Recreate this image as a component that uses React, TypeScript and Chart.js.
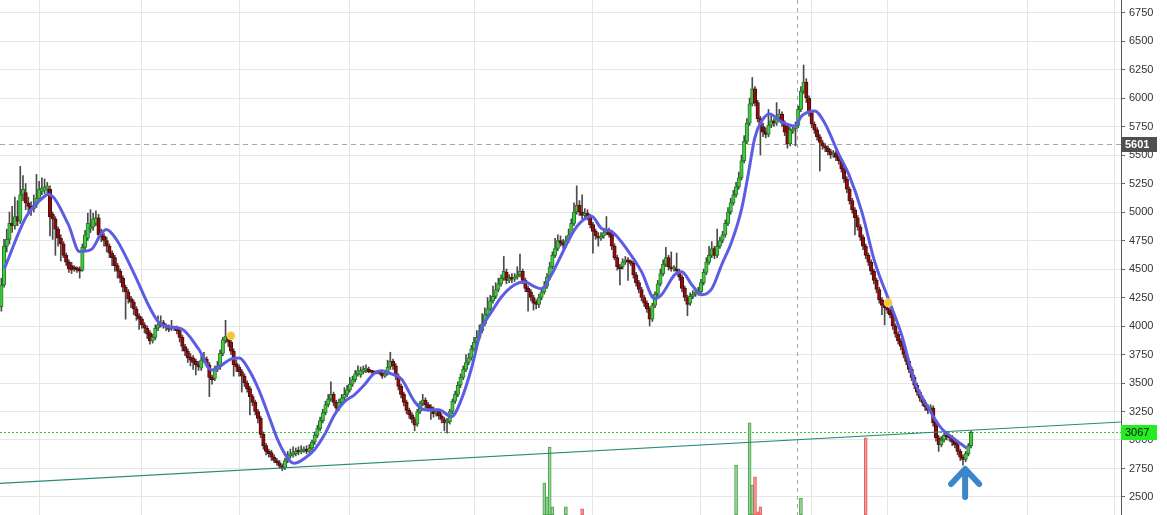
import React, { useEffect, useRef } from "react";
import { Chart, registerables } from "chart.js";

Chart.register(...registerables);

// ---- candle data (one candle per trading day) ----
const opens = [
  4170,4360,4700,4760,4900,4880,4960,4920,5150,5170,
  5080,5050,5030,5060,5120,5180,5190,5200,5200,4980,
  4940,4850,4770,4720,4620,4560,4530,4510,4510,4500,
  4490,4690,4770,4850,4870,4900,4950,4820,4790,4750,
  4700,4640,4600,4530,4480,4420,4340,4300,4240,4210,
  4150,4090,4060,4010,3980,3940,3870,3900,3980,4010,
  4030,4000,3990,3975,3990,3985,3960,3900,3820,3780,
  3730,3720,3690,3660,3630,3700,3710,3660,3550,3540,
  3620,3640,3760,3870,3900,3860,3780,3670,3640,3600,
  3560,3500,3450,3380,3330,3250,3190,3050,2950,2900,
  2890,2850,2820,2800,2770,2760,2820,2860,2870,2880,
  2900,2895,2905,2915,2900,2930,2980,3040,3100,3170,
  3240,3310,3360,3400,3330,3280,3330,3370,3400,3440,
  3490,3530,3580,3570,3600,3610,3620,3600,3595,3590,
  3590,3585,3560,3580,3640,3690,3650,3560,3470,3400,
  3330,3260,3220,3180,3140,3250,3320,3350,3310,3290,
  3270,3230,3250,3210,3180,3150,3160,3250,3340,3400,
  3480,3550,3620,3680,3720,3800,3860,3900,3960,4020,
  4100,4150,4220,4260,4320,4370,4420,4470,4400,4420,
  4410,4430,4450,4480,4400,4330,4300,4250,4200,4190,
  4250,4300,4350,4430,4520,4620,4680,4750,4730,4710,
  4750,4800,4900,5000,5060,5000,4970,4990,4960,4890,
  4830,4790,4770,4790,4820,4840,4820,4700,4600,4520,
  4520,4560,4580,4560,4550,4450,4380,4320,4250,4200,
  4150,4060,4180,4280,4370,4460,4540,4600,4520,4500,
  4500,4480,4430,4330,4250,4200,4260,4280,4290,4300,
  4380,4470,4560,4620,4680,4620,4700,4750,4800,4900,
  5000,5080,5150,5220,5300,5450,5620,5780,5950,6080,
  5960,5820,5750,5700,5680,5760,5800,5780,5830,5860,
  5780,5750,5600,5710,5730,5760,5900,6060,6140,6000,
  5870,5770,5720,5660,5610,5580,5560,5530,5500,5520,
  5480,5450,5380,5290,5200,5100,5020,4950,4870,4780,
  4700,4620,4560,4480,4400,4320,4230,4180,4160,4140,
  4100,4000,3930,3870,3820,3750,3690,3620,3550,3480,
  3420,3370,3330,3290,3270,3280,3150,3020,2960,3000,
  3040,3030,3020,2980,2960,2900,2850,2830,2880,2950,
];
const highs = [
  4420,4760,4850,5000,5050,5130,5100,5400,5320,5250,
  5130,5090,5150,5330,5270,5300,5290,5260,5230,5000,
  4960,4870,4800,4740,4640,4580,4560,4530,4520,4520,
  4720,4840,4990,5020,4990,5010,4980,4850,4810,4780,
  4720,4660,4620,4550,4500,4440,4360,4320,4260,4230,
  4170,4110,4080,4030,4000,3960,3930,4010,4090,4090,
  4050,4020,4010,4050,4000,4000,3980,3920,3840,3800,
  3760,3740,3710,3690,3740,3770,3730,3680,3570,3650,
  3690,3790,3900,4050,3930,3880,3800,3700,3660,3620,
  3580,3520,3470,3400,3350,3270,3210,3070,2970,2920,
  2910,2870,2840,2820,2790,2840,2900,2920,2940,2930,
  2940,2950,2940,2950,2960,3000,3070,3130,3200,3270,
  3340,3400,3510,3420,3350,3360,3400,3460,3480,3550,
  3560,3610,3650,3640,3650,3660,3640,3610,3605,3600,
  3600,3600,3600,3700,3770,3710,3670,3580,3490,3420,
  3350,3280,3240,3200,3270,3340,3400,3370,3330,3310,
  3290,3270,3270,3230,3200,3190,3270,3360,3430,3510,
  3580,3650,3750,3760,3830,3900,3960,4010,4110,4160,
  4250,4270,4350,4380,4420,4450,4610,4500,4450,4460,
  4460,4520,4630,4500,4420,4350,4320,4270,4230,4280,
  4330,4390,4460,4560,4650,4770,4800,4790,4760,4790,
  4850,4940,5080,5230,5100,5150,5030,5020,4980,4910,
  4850,4820,4820,4850,4960,4860,4840,4720,4620,4540,
  4590,4610,4600,4580,4570,4470,4400,4340,4270,4220,
  4170,4200,4300,4400,4500,4580,4690,4620,4650,4530,
  4640,4500,4450,4350,4270,4290,4310,4320,4340,4410,
  4500,4600,4700,4740,4700,4850,4780,4830,4930,5040,
  5120,5190,5260,5350,5500,5670,5820,6000,6180,6100,
  5980,5840,5780,5740,5900,5840,5820,5960,5900,5880,
  5800,5770,5740,5760,5790,5930,6100,6290,6170,6020,
  5890,5790,5740,5680,5630,5600,5580,5550,5540,5540,
  5500,5470,5400,5310,5220,5120,5040,4970,4890,4800,
  4720,4640,4580,4500,4420,4340,4250,4200,4180,4160,
  4120,4020,3950,3890,3840,3770,3710,3640,3570,3500,
  3440,3390,3350,3310,3310,3300,3170,3040,3030,3060,
  3060,3050,3040,3000,2980,2920,2870,2900,2970,3080,
];
const lows = [
  4130,4340,4650,4720,4820,4850,4880,4900,5100,5020,
  4990,4970,5000,5040,5090,5150,5160,5170,4790,4760,
  4620,4700,4570,4600,4530,4470,4460,4480,4470,4420,
  4480,4670,4750,4820,4840,4880,4770,4740,4700,4650,
  4600,4530,4480,4420,4380,4300,4060,4200,4160,4100,
  4050,3970,3980,3940,3890,3840,3850,3880,3960,3990,
  3980,3960,3950,3960,3960,3930,3860,3780,3740,3680,
  3650,3620,3570,3610,3610,3680,3640,3380,3490,3520,
  3600,3620,3740,3850,3820,3750,3560,3600,3560,3420,
  3470,3420,3220,3300,3220,3150,3020,2920,2870,2850,
  2820,2800,2780,2750,2730,2740,2800,2840,2850,2860,
  2870,2880,2890,2880,2890,2910,2960,3020,3080,3150,
  3220,3290,3340,3300,3230,3260,3310,3350,3380,3420,
  3470,3510,3560,3550,3580,3590,3590,3585,3580,3580,
  3575,3540,3550,3570,3620,3620,3530,3440,3370,3300,
  3230,3190,3150,3080,3120,3230,3300,3280,3250,3180,
  3200,3210,3180,3150,3080,3060,3140,3230,3320,3380,
  3460,3530,3600,3660,3700,3780,3840,3880,3940,4000,
  4080,4130,4200,4240,4300,4350,4400,4370,4380,4380,
  4390,4410,4430,4370,4300,4130,4220,4140,4150,4160,
  4230,4280,4330,4410,4500,4600,4660,4700,4680,4690,
  4730,4780,4880,4980,4970,4940,4950,4930,4860,4640,
  4760,4700,4750,4770,4800,4780,4670,4580,4490,4360,
  4500,4540,4400,4530,4420,4350,4290,4220,4170,4120,
  4000,4040,4160,4260,4350,4440,4520,4490,4480,4480,
  4460,4400,4300,4220,4090,4180,4240,4260,4270,4280,
  4360,4450,4540,4600,4590,4600,4680,4730,4780,4880,
  4980,5060,5130,5200,5280,5430,5600,5760,5930,5930,
  5790,5500,5660,5650,5660,5740,5750,5760,5810,5750,
  5670,5560,5580,5690,5580,5740,5880,6040,5960,5840,
  5740,5690,5630,5360,5550,5530,5500,5470,5480,5450,
  5420,5350,5260,5170,5070,4990,4800,4840,4750,4670,
  4590,4530,4450,4370,4290,4200,4100,4010,4110,4070,
  3970,3900,3840,3790,3720,3660,3590,3520,3450,3390,
  3340,3300,3260,3230,3250,3120,2990,2900,2940,2980,
  3000,2990,2950,2930,2870,2820,2780,2810,2860,2930,
];
const closes = [
  4360,4700,4760,4900,4880,4960,4920,5150,5200,5080,
  5050,5030,5060,5120,5200,5210,5220,5230,4960,4940,
  4850,4770,4720,4620,4560,4500,4490,4500,4490,4480,
  4690,4800,4900,4870,4940,4950,4800,4780,4750,4700,
  4640,4600,4530,4480,4420,4340,4300,4240,4210,4150,
  4090,4060,4010,3980,3930,3870,3900,3980,4010,4030,
  4000,3990,3970,3990,3980,3960,3900,3820,3780,3720,
  3700,3680,3660,3640,3700,3720,3660,3550,3530,3620,
  3650,3760,3880,3910,3860,3780,3660,3640,3600,3560,
  3500,3450,3380,3330,3250,3190,3050,2950,2900,2880,
  2850,2820,2800,2770,2750,2820,2870,2880,2890,2900,
  2895,2910,2915,2900,2930,2980,3040,3100,3170,3240,
  3310,3360,3400,3330,3280,3330,3370,3400,3440,3490,
  3530,3580,3610,3610,3620,3630,3600,3595,3590,3592,
  3585,3560,3580,3640,3690,3650,3560,3470,3400,3330,
  3260,3220,3180,3130,3250,3320,3350,3310,3280,3270,
  3230,3250,3210,3180,3150,3160,3250,3340,3400,3480,
  3550,3620,3680,3720,3800,3860,3900,3960,4020,4100,
  4150,4220,4260,4320,4370,4420,4480,4400,4420,4410,
  4430,4450,4480,4400,4330,4300,4250,4200,4190,4250,
  4300,4350,4430,4520,4620,4680,4750,4730,4710,4750,
  4800,4900,5000,5060,5000,4970,4990,4960,4890,4830,
  4790,4770,4790,4820,4840,4800,4700,4600,4520,4500,
  4560,4580,4560,4550,4450,4380,4320,4250,4200,4150,
  4060,4180,4280,4370,4460,4540,4600,4520,4500,4505,
  4480,4430,4330,4250,4190,4260,4280,4290,4300,4380,
  4470,4560,4620,4680,4620,4700,4750,4800,4900,5000,
  5080,5150,5220,5300,5450,5620,5780,5950,6080,5960,
  5820,5750,5700,5680,5760,5800,5780,5830,5860,5780,
  5700,5600,5720,5730,5760,5900,6060,6140,6000,5870,
  5770,5720,5660,5610,5580,5560,5530,5500,5520,5480,
  5450,5380,5290,5200,5100,5020,4950,4870,4780,4700,
  4620,4560,4480,4400,4320,4230,4180,4160,4140,4100,
  4000,3930,3870,3820,3750,3690,3620,3550,3480,3420,
  3370,3330,3290,3260,3290,3150,3020,2960,3000,3040,
  3030,3020,2980,2960,2900,2850,2830,2880,2950,3067,
];

// ---- moving average line (read at irregular candle positions) ----
const maIndex = [
  1.1, 9.3, 16, 17.4, 24.8, 28.9, 33.3, 37, 38.9, 42.6,
  49.3, 54.4, 58.1, 61.9, 66.7, 73, 77.8, 85.2, 88.1, 91.5,
  95.2, 98.9, 102.6, 106.3, 108.5, 112.2, 115.9, 119.6, 123.3, 127,
  130.7, 134.4, 137.8, 140.7, 144.4, 148.1, 153, 156.7, 161.9, 166.7,
  170.4, 174, 177.8, 181.5, 185.2, 190, 193.7, 197.4, 200, 203.7,
  207.4, 211.1, 214.8, 218.5, 222.2, 225.9, 232.2, 237, 241.9, 244.4,
  249.3, 251.9, 255.6, 259.3, 263, 266.7, 270.4, 274.1, 276.7, 278.9,
  281.5, 284.4, 288.9, 293.7, 296.3, 301.1, 304.8, 310, 313.7, 318.5,
  323.3, 328.5, 333.3, 338.1, 343.3, 348.1, 353, 357.4,
];
const maValues = [
  4503, 4962, 5138, 5155, 4891, 4653, 4671, 4812, 4847, 4759,
  4451, 4186, 4037, 3992, 3975, 3799, 3614, 3711, 3719, 3622,
  3446, 3217, 2985, 2830, 2795, 2838, 2915, 3045, 3220, 3335,
  3396, 3484, 3580, 3607, 3580, 3536, 3336, 3265, 3265, 3205,
  3362, 3625, 3975, 4125, 4257, 4362, 4389, 4345, 4327, 4451,
  4627, 4803, 4917, 4962, 4856, 4829, 4653, 4477, 4239, 4274,
  4451, 4477, 4362, 4274, 4327, 4539, 4741, 5032, 5358, 5649,
  5799, 5860, 5790, 5754, 5843, 5887, 5781, 5508, 5332, 5006,
  4565, 4230, 3922, 3510, 3275, 3100, 3005, 2928,
];

// ---- volume spikes ----
const volumeIndex = [201, 202, 203, 204, 209, 215, 272, 277, 278, 279, 280, 281, 296, 320];
const volumeValues = [6.2, 3.5, 13.2, 1.6, 1.6, 1.2, 9.7, 17.9, 5.8, 7.4, 0.6, 1.6, 3.3, 15.0];

// ---- axes ----
const priceTicks = [2500, 2750, 3000, 3250, 3500, 3750, 4000, 4250, 4500, 4750, 5000, 5250, 5500, 5750, 6000, 6250, 6500, 6750];
const gridIndex = [14, 52, 88, 129, 175, 219, 259, 300, 328, 380, 412];
const SLOTS = 415;
const PRICE_MIN = 2342;
const PRICE_MAX = 6860;

// ---- annotations ----
const trendIndex = [-0.5, 414.5];
const trendValues = [2620, 3158];
const signalIndex = [85, 328.3];
const signalValues = [3915, 4205];
const lastPrice = 3067;
const cursorPrice = 5601;
const cursorIndex = 294.6;
const arrowIndex = 356.8;
const arrowTop = 2746;
const arrowBottom = 2500;

const UP_FILL = "#3fcc3f";
const UP_EDGE = "#257a25";
const DOWN_FILL = "#8a1010";
const DOWN_EDGE = "#5a0707";

const overlayPlugin = {
  id: "overlay",
  beforeDatasetsDraw(chart: any) {
    const { ctx, chartArea, scales } = chart;
    const xs = scales.x;
    const ys = scales.y;
    ctx.save();
    ctx.lineWidth = 1;
    ctx.strokeStyle = "#a6a6a6";
    ctx.setLineDash([5, 4]);
    const yc = Math.round(ys.getPixelForValue(cursorPrice)) + 0.5;
    ctx.beginPath();
    ctx.moveTo(chartArea.left, yc);
    ctx.lineTo(chartArea.right, yc);
    ctx.stroke();
    const xc = Math.round(xs.getPixelForValue(cursorIndex)) + 0.5;
    ctx.setLineDash([4, 4]);
    ctx.beginPath();
    ctx.moveTo(xc, chartArea.top);
    ctx.lineTo(xc, chartArea.bottom);
    ctx.stroke();
    ctx.strokeStyle = "#33c433";
    ctx.setLineDash([2, 2]);
    const yl = Math.round(ys.getPixelForValue(lastPrice)) + 0.5;
    ctx.beginPath();
    ctx.moveTo(chartArea.left, yl);
    ctx.lineTo(chartArea.right, yl);
    ctx.stroke();
    ctx.restore();
  },
  afterDraw(chart: any) {
    const { ctx, chartArea, scales } = chart;
    const xs = scales.x;
    const ys = scales.y;
    ctx.save();
    const ax = xs.getPixelForValue(arrowIndex);
    const at = ys.getPixelForValue(arrowTop);
    const ab = ys.getPixelForValue(arrowBottom);
    ctx.strokeStyle = "#3a86c8";
    ctx.lineWidth = 6;
    ctx.lineCap = "round";
    ctx.lineJoin = "round";
    ctx.beginPath();
    ctx.moveTo(ax - 14, at + 15);
    ctx.lineTo(ax, at);
    ctx.lineTo(ax + 14, at + 15);
    ctx.moveTo(ax, at + 2);
    ctx.lineTo(ax, ab);
    ctx.stroke();
    const drawBox = (value: number, fill: string, color: string, weight: string) => {
      const yv = ys.getPixelForValue(value);
      const left = chartArea.right;
      ctx.fillStyle = fill;
      ctx.fillRect(left, Math.round(yv) - 7, 36, 15);
      ctx.fillStyle = color;
      ctx.font = `${weight} 11px 'Liberation Sans', Arial, sans-serif`;
      ctx.textBaseline = "middle";
      ctx.textAlign = "left";
      ctx.fillText(String(value), left + 4, Math.round(yv) + 1);
    };
    drawBox(cursorPrice, "#4f4f4f", "#ffffff", "bold");
    drawBox(lastPrice, "#22ee22", "#111111", "normal");
    ctx.restore();
  },
};

export default function App() {
  const ref = useRef<HTMLCanvasElement | null>(null);

  useEffect(() => {
    if (!ref.current) return;
    const isUp = closes.map((c, i) => c >= opens[i]);

    const chart = new Chart(ref.current, {
      type: "bar",
      data: {
        datasets: [
          {
            type: "bar",
            label: "Volume",
            data: volumeIndex.map((x, k) => ({ x, y: volumeValues[k] })),
            yAxisID: "vol",
            backgroundColor: volumeIndex.map((i) => (isUp[i] ? "#93d693" : "#f39595")),
            borderColor: volumeIndex.map((i) => (isUp[i] ? "#4c9e4c" : "#e06060")),
            borderWidth: 1,
            borderSkipped: false,
            barThickness: 3,
            grouped: false,
            order: 6,
          } as any,
          {
            type: "bar",
            label: "Wicks",
            data: lows.map((l, i) => ({ x: i, y: [l, highs[i]] })),
            yAxisID: "y",
            backgroundColor: "#4a4a4a",
            borderWidth: 0,
            barThickness: 1,
            grouped: false,
            order: 5,
          } as any,
          {
            type: "bar",
            label: "Bodies",
            data: opens.map((o, i) => ({ x: i, y: [o, closes[i]] })),
            yAxisID: "y",
            backgroundColor: isUp.map((u) => (u ? UP_FILL : DOWN_FILL)),
            borderColor: isUp.map((u) => (u ? UP_EDGE : DOWN_EDGE)),
            borderWidth: 1,
            borderSkipped: false,
            barThickness: 3.5,
            minBarLength: 2,
            grouped: false,
            order: 4,
          } as any,
          {
            type: "line",
            label: "Trend",
            data: trendIndex.map((x, k) => ({ x, y: trendValues[k] })),
            yAxisID: "y",
            borderColor: "#2b8a7c",
            borderWidth: 1.2,
            pointRadius: 0,
            order: 3,
          } as any,
          {
            type: "line",
            label: "MA",
            data: maIndex.map((x, k) => ({ x, y: maValues[k] })),
            yAxisID: "y",
            borderColor: "#5c5ce4",
            borderWidth: 3,
            pointRadius: 0,
            cubicInterpolationMode: "monotone",
            order: 2,
          } as any,
          {
            type: "line",
            label: "Signals",
            data: signalIndex.map((x, k) => ({ x, y: signalValues[k] })),
            yAxisID: "y",
            showLine: false,
            pointRadius: 4,
            pointBackgroundColor: "#f4c530",
            pointBorderColor: "#f8d870",
            pointBorderWidth: 1,
            order: 1,
          } as any,
        ],
      },
      options: {
        animation: false,
        responsive: false,
        devicePixelRatio: 1,
        layout: { padding: 0, autoPadding: false },
        plugins: { legend: { display: false }, tooltip: { enabled: false } },
        scales: {
          x: {
            type: "linear",
            offset: false,
            min: -0.5,
            max: SLOTS - 0.5,
            afterBuildTicks: (scale: any) => {
              scale.ticks = gridIndex.map((v) => ({ value: v }));
            },
            afterFit: (scale: any) => {
              scale.height = 0;
              scale.paddingLeft = 0;
              scale.paddingRight = 0;
              scale.paddingTop = 0;
              scale.paddingBottom = 0;
            },
            ticks: { display: false },
            grid: { color: "#e6e6e6", drawTicks: false, offset: false },
            border: { display: false },
          },
          y: {
            type: "linear",
            position: "right",
            min: PRICE_MIN,
            max: PRICE_MAX,
            afterBuildTicks: (scale: any) => {
              scale.ticks = priceTicks.map((v) => ({ value: v }));
            },
            afterFit: (scale: any) => {
              scale.width = 46;
              scale.paddingTop = 0;
              scale.paddingBottom = 0;
              scale.paddingLeft = 0;
              scale.paddingRight = 0;
            },
            ticks: {
              color: "#333333",
              padding: 4,
              font: { family: "'Liberation Sans', Arial, sans-serif", size: 11 },
              callback: (v: any) => String(v),
            },
            grid: { color: "#e6e6e6", tickLength: 4, tickColor: "#666666" },
            border: { color: "#555555" },
          },
          vol: {
            type: "linear",
            display: false,
            min: 0,
            max: 100,
          },
        },
      } as any,
      plugins: [overlayPlugin],
    });
    return () => chart.destroy();
  }, []);

  return (
    <div style={{ position: "fixed", left: 0, top: 0, width: 1167, height: 515, background: "#ffffff" }}>
      <canvas ref={ref} width={1167} height={515} style={{ display: "block" }} />
    </div>
  );
}
